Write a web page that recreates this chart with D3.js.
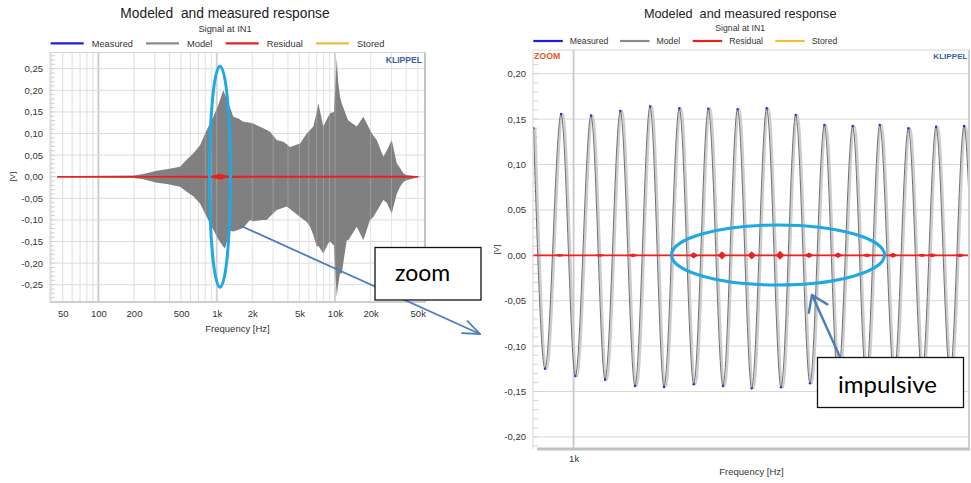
<!DOCTYPE html>
<html><head><meta charset="utf-8">
<script src="https://cdn.jsdelivr.net/npm/d3@7"></script>
<style>
html,body{margin:0;padding:0;background:#fff;}
svg{display:block;font-family:"Liberation Sans",Arial,sans-serif;}
</style></head><body>
<svg id="c" width="971" height="483"></svg>
<script>
// ---------------- DATA ----------------
const titleText = "Modeled  and measured response";
const subtitleText = "Signal at IN1";
const legendNames = ["Measured", "Model", "Residual", "Stored"];

// Left (full sweep) chart
const leftXTicks = [50, 100, 200, 500, 1000, 2000, 5000, 10000, 20000, 50000];
const leftXTickLabels = ["50", "100", "200", "500", "1k", "2k", "5k", "10k", "20k", "50k"];
const leftYTicks = [-0.25, -0.20, -0.15, -0.10, -0.05, 0.00, 0.05, 0.10, 0.15, 0.20, 0.25];

// model signal envelope (upper / lower) vs frequency
const envFreq  = [45, 103, 197, 240, 311, 378, 490, 557, 634, 723, 823, 936, 1030, 1137, 1175, 1296, 1381, 1523, 1679, 1912, 2040, 2477, 2647, 2823, 3215, 3656, 3906, 4165, 5060, 5766, 6149, 6556, 7003, 7224, 7964, 8778, 9073, 9806, 10340, 10630, 11020, 11390, 12560, 12950, 15260, 17350, 19770, 21080, 22520, 25610, 27350, 30150, 33240, 35440, 37790, 40370, 49050, 52300];
const envUpper = [0.001, 0.002, 0.003, 0.006, 0.014, 0.017, 0.023, 0.039, 0.054, 0.073, 0.108, 0.139, 0.166, 0.200, 0.190, 0.160, 0.139, 0.135, 0.127, 0.125, 0.123, 0.112, 0.108, 0.104, 0.085, 0.081, 0.075, 0.069, 0.077, 0.100, 0.108, 0.116, 0.150, 0.170, 0.116, 0.140, 0.147, 0.150, 0.274, 0.220, 0.185, 0.170, 0.139, 0.130, 0.116, 0.139, 0.108, 0.095, 0.085, 0.046, 0.060, 0.085, 0.031, 0.020, 0.008, 0.004, 0.001, 0.0005];
const envLower = [-0.001, -0.002, -0.003, -0.006, -0.014, -0.017, -0.023, -0.035, -0.045, -0.062, -0.093, -0.123, -0.145, -0.162, -0.166, -0.125, -0.127, -0.123, -0.118, -0.100, -0.103, -0.100, -0.100, -0.092, -0.077, -0.072, -0.069, -0.075, -0.093, -0.105, -0.116, -0.135, -0.162, -0.160, -0.178, -0.154, -0.150, -0.160, -0.278, -0.250, -0.224, -0.224, -0.147, -0.147, -0.116, -0.147, -0.100, -0.093, -0.080, -0.054, -0.060, -0.085, -0.040, -0.023, -0.012, -0.008, -0.002, -0.0005];

// residual amplitude vs frequency (left)
const resFreq = [45, 300, 600, 900, 1000, 1066, 1150, 1250, 2000, 10000, 40000, 50000];
const resAmp  = [0.0012, 0.0015, 0.002, 0.0025, 0.005, 0.007, 0.004, 0.0025, 0.002, 0.002, 0.002, 0.001];

// Right (zoom) chart
const rightXTicks = [1000];
const rightXTickLabels = ["1k"];
const rightYTicks = [-0.20, -0.15, -0.10, -0.05, 0.00, 0.05, 0.10, 0.15, 0.20];

// waveform extrema (frequency axis of the zoom, value in V)
const waveHz = [995.95, 997.11, 998.73, 1000.17, 1001.75, 1003.17, 1004.71, 1006.19, 1007.71, 1009.12, 1010.66, 1012.12, 1013.59, 1015.07, 1016.54, 1017.97, 1019.48, 1020.93, 1022.41, 1023.85, 1025.30, 1026.68, 1028.16, 1029.51, 1030.89, 1032.33, 1033.78, 1035.16, 1036.57, 1037.98, 1039.40, 1039.95];
const waveV  = [0.140, -0.125, 0.1556, -0.133, 0.154, -0.137, 0.159, -0.144, 0.164, -0.145, 0.162, -0.142, 0.1615, -0.144, 0.161, -0.1465, 0.162, -0.1454, 0.1545, -0.141, 0.1435, -0.137, 0.1424, -0.135, 0.1435, -0.133, 0.140, -0.132, 0.1416, -0.131, 0.1424, 0.05];

// residual bursts in the zoom
const burstHz  = [998.6, 1002.66, 1005.99, 1012.12, 1014.97, 1017.97, 1020.83, 1023.75, 1026.68, 1029.61, 1032.23, 1035.16, 1036.17, 1039.0];
const burstAmp = [0.0015, 0.0015, 0.002, 0.0035, 0.0045, 0.0045, 0.005, 0.003, 0.003, 0.002, 0.0028, 0.0018, 0.0022, 0.002];

// ---------------- DRAW ----------------
const svg = d3.select("#c");
const fmt = v => d3.format(".2f")(v).replace(".", ",").replace("−", "-");
const legendColors = ["#1c1ce8", "#8a8a8a", "#e8201e", "#eebd3a"];

function titles(cx, yT, fsT, yS, fsS) {
  svg.append("text").attr("x", cx).attr("y", yT).attr("text-anchor", "middle")
    .style("white-space", "pre").attr("font-size", fsT).attr("fill", "#222").text(titleText);
  svg.append("text").attr("x", cx).attr("y", yS).attr("text-anchor", "middle")
    .attr("font-size", fsS).attr("fill", "#333").text(subtitleText);
}
function legend(xs, y, lw, gap, fs) {
  legendNames.forEach((n, i) => {
    svg.append("line").attr("x1", xs[i]).attr("x2", xs[i] + lw).attr("y1", y).attr("y2", y)
      .attr("stroke", legendColors[i]).attr("stroke-width", 2.2);
    svg.append("text").attr("x", xs[i] + lw + gap).attr("y", y + 3.3).attr("font-size", fs)
      .attr("fill", "#333").text(n);
  });
}

// ===== LEFT CHART =====
const L = {x0: 50, x1: 425, y0: 52.5, y1: 302};
const xL = d3.scaleLog().domain([39, 57600]).range([L.x0, L.x1]);
const yL = d3.scaleLinear().domain([-0.29, 0.2875]).range([L.y1, L.y0]);

titles(225, 18.3, 13.8, 32, 9.3);
legend([50.7, 146, 225.7, 316], 43.3, 33, 8, 9.3);

const gL = svg.append("g");
svg.append("clipPath").attr("id", "clipL").append("rect")
  .attr("x", L.x0).attr("y", L.y0).attr("width", L.x1 - L.x0).attr("height", L.y1 - L.y0);

const gridF = [];
[10, 100, 1000, 10000].forEach(d => { for (let m = 1; m <= 9; m++) { const f = d * m; if (f >= 40 && f <= 50000) gridF.push(f); } });

gL.selectAll(".vg").data(gridF).join("line")
  .attr("x1", d => xL(d)).attr("x2", d => xL(d)).attr("y1", L.y0).attr("y2", L.y1)
  .attr("stroke", d => [100, 1000, 10000].includes(d) ? "#c9c9c9" : "#dedede")
  .attr("stroke-width", d => [100, 1000, 10000].includes(d) ? 1.8 : 1);
gL.selectAll(".hg").data(leftYTicks).join("line")
  .attr("x1", L.x0).attr("x2", L.x1).attr("y1", d => yL(d)).attr("y2", d => yL(d))
  .attr("stroke", "#dcdcdc").attr("stroke-width", 1);
// minor y ticks
const minorL = d3.range(-28, 29).map(k => k / 100);
gL.selectAll(".mt").data(minorL).join("line")
  .attr("x1", L.x0).attr("x2", L.x0 + 5).attr("y1", d => yL(d)).attr("y2", d => yL(d))
  .attr("stroke", "#d2d2d2").attr("stroke-width", 1);

const envData = envFreq.map((f, i) => ({f, u: envUpper[i], l: envLower[i]}));
gL.append("path").datum(envData).attr("clip-path", "url(#clipL)")
  .attr("d", d3.area().x(d => xL(d.f)).y0(d => yL(d.l)).y1(d => yL(d.u)).curve(d3.curveLinear))
  .attr("fill", "#808080");
// grid shows faintly through the signal
gL.selectAll(".vg2").data(gridF.filter(f => f >= 800)).join("line")
  .attr("x1", d => xL(d)).attr("x2", d => xL(d)).attr("y1", L.y0).attr("y2", L.y1)
  .attr("stroke", "#ffffff").attr("stroke-opacity", 0.22).attr("stroke-width", 1);

const resData = resFreq.map((f, i) => ({f, a: resAmp[i]}));
gL.append("path").datum(resData)
  .attr("d", d3.area().x(d => xL(d.f)).y0(d => yL(-d.a)).y1(d => yL(d.a)))
  .attr("fill", "#e8201e");
gL.append("line").attr("x1", xL(resFreq[0])).attr("x2", xL(resFreq[resFreq.length - 1]))
  .attr("y1", yL(0)).attr("y2", yL(0)).attr("stroke", "#e8201e").attr("stroke-width", 1.4);

// frame
gL.append("rect").attr("x", L.x0).attr("y", L.y0).attr("width", L.x1 - L.x0).attr("height", L.y1 - L.y0)
  .attr("fill", "none").attr("stroke", "#d4d4d4");
gL.append("line").attr("x1", L.x1).attr("x2", L.x1).attr("y1", L.y0).attr("y2", L.y1 + 1)
  .attr("stroke", "#c4c4c4").attr("stroke-width", 2);
gL.append("line").attr("x1", L.x0).attr("x2", L.x1 + 1).attr("y1", L.y1).attr("y2", L.y1)
  .attr("stroke", "#cfcfcf").attr("stroke-width", 2);

// axes
const axL = gL.append("g").attr("transform", `translate(${L.x0},0)`)
  .call(d3.axisLeft(yL).tickValues(leftYTicks).tickSize(0).tickPadding(7).tickFormat(fmt));
const axB = gL.append("g").attr("transform", `translate(0,${L.y1})`)
  .call(d3.axisBottom(xL).tickValues(leftXTicks).tickSize(0).tickPadding(8.5)
    .tickFormat((d, i) => leftXTickLabels[i]));
[axL, axB].forEach(a => { a.select(".domain").remove();
  a.selectAll("text").attr("font-size", 9.5).attr("fill", "#333").attr("font-family", "Liberation Sans, Arial, sans-serif"); });

svg.append("text").attr("x", (L.x0 + L.x1) / 2).attr("y", 332).attr("text-anchor", "middle")
  .attr("font-size", 9.5).attr("fill", "#333").text("Frequency [Hz]");
svg.append("text").attr("transform", `translate(14.5,${yL(0)}) rotate(-90)`).attr("text-anchor", "middle")
  .attr("font-size", 8).attr("fill", "#333").text("[V]");
svg.append("text").attr("x", 422).attr("y", 63).attr("text-anchor", "end").attr("font-weight", "bold")
  .attr("font-size", 8.6).attr("fill", "#3a5ca6").text("KLIPPEL");

// ===== RIGHT CHART =====
const R = {x0: 533, x1: 970, y0: 50, y1: 449};
const xR = d3.scaleLinear().domain([995.9, 1040]).range([R.x0, R.x1]);
const yR = d3.scaleLinear().domain([-0.2133, 0.2261]).range([R.y1, R.y0]);

titles(740.2, 18.3, 12.7, 30.7, 8.7);
legend([533.3, 620, 692.7, 775.3], 41, 29.5, 7, 8.7);

const gR = svg.append("g");
svg.append("clipPath").attr("id", "clipR").append("rect")
  .attr("x", R.x0).attr("y", R.y0).attr("width", R.x1 - R.x0).attr("height", R.y1 - R.y0);

gR.selectAll(".hg").data(rightYTicks).join("line")
  .attr("x1", R.x0).attr("x2", R.x1).attr("y1", d => yR(d)).attr("y2", d => yR(d))
  .attr("stroke", "#d8d8d8").attr("stroke-width", 1);
gR.selectAll(".vg").data(rightXTicks).join("line")
  .attr("x1", d => xR(d)).attr("x2", d => xR(d)).attr("y1", R.y0).attr("y2", R.y1)
  .attr("stroke", "#c9c9c9").attr("stroke-width", 1.8);
const minorR = d3.range(-21, 23).map(k => k / 100);
gR.selectAll(".mt").data(minorR).join("line")
  .attr("x1", R.x0).attr("x2", R.x0 + 5).attr("y1", d => yR(d)).attr("y2", d => yR(d))
  .attr("stroke", "#d2d2d2").attr("stroke-width", 1);

const waveData = waveHz.map((h, i) => ({h, v: waveV[i]}));
const waveLine = d3.line().x(d => xR(d.h)).y(d => yR(d.v)).curve(d3.curveMonotoneX);
const gw = gR.append("g").attr("clip-path", "url(#clipR)");
gw.append("path").datum(waveData).attr("d", waveLine).attr("transform", "translate(1.6,0)")
  .attr("fill", "none").attr("stroke", "#cdcdcd").attr("stroke-width", 2.6);
gw.append("path").datum(waveData).attr("d", waveLine)
  .attr("fill", "none").attr("stroke", "#5e5e66").attr("stroke-width", 0.9);
gw.selectAll(".dot").data(waveData).join("circle")
  .attr("cx", d => xR(d.h)).attr("cy", d => yR(d.v)).attr("r", 1.2).attr("fill", "#2a2ae6");

// residual
gw.append("line").attr("x1", R.x0).attr("x2", R.x1).attr("y1", yR(0)).attr("y2", yR(0))
  .attr("stroke", "#ee2020").attr("stroke-width", 1.8);
gw.selectAll(".burst").data(burstHz.map((h, i) => ({h, a: burstAmp[i]}))).join("path")
  .attr("d", d => {
    const x = xR(d.h);
    return d3.area().x(p => p[0]).y0(p => yR(-p[1])).y1(p => yR(p[1]))([[x - 3.5, 0.0008], [x, d.a], [x + 3.5, 0.0008]]);
  })
  .attr("fill", "#ee2020");

// frame
gR.append("line").attr("x1", R.x0).attr("x2", R.x1).attr("y1", R.y0).attr("y2", R.y0).attr("stroke", "#d4d4d4");
gR.append("line").attr("x1", R.x0).attr("x2", R.x0).attr("y1", R.y0).attr("y2", R.y1).attr("stroke", "#d4d4d4");
gR.append("line").attr("x1", R.x1 - 1).attr("x2", R.x1 - 1).attr("y1", R.y0).attr("y2", R.y1)
  .attr("stroke", "#cfcfcf").attr("stroke-width", 2);
gR.append("line").attr("x1", R.x0 + 4).attr("x2", R.x1).attr("y1", R.y1).attr("y2", R.y1)
  .attr("stroke", "#c2c2c2").attr("stroke-width", 3);

const axRL = gR.append("g").attr("transform", `translate(${R.x0},0)`)
  .call(d3.axisLeft(yR).tickValues(rightYTicks).tickSize(0).tickPadding(7).tickFormat(fmt));
const axRB = gR.append("g").attr("transform", `translate(0,${R.y1})`)
  .call(d3.axisBottom(xR).tickValues(rightXTicks).tickSize(0).tickPadding(6.5)
    .tickFormat((d, i) => rightXTickLabels[i]));
[axRL, axRB].forEach(a => { a.select(".domain").remove();
  a.selectAll("text").attr("font-size", 9.5).attr("fill", "#333").attr("font-family", "Liberation Sans, Arial, sans-serif"); });

svg.append("text").attr("x", (R.x0 + R.x1) / 2).attr("y", 475).attr("text-anchor", "middle")
  .attr("font-size", 9.5).attr("fill", "#333").text("Frequency [Hz]");
svg.append("text").attr("transform", `translate(499,${(R.y0 + R.y1) / 2}) rotate(-90)`).attr("text-anchor", "middle")
  .attr("font-size", 8).attr("fill", "#333").text("[V]");
svg.append("text").attr("x", 967.5).attr("y", 59.3).attr("text-anchor", "end").attr("font-weight", "bold")
  .attr("font-size", 8.1).attr("fill", "#3a5ca6").text("KLIPPEL");
svg.append("text").attr("x", 534).attr("y", 59.3).attr("font-weight", "bold")
  .attr("font-size", 8.8).attr("fill", "#e25a2a").text("ZOOM");

// ===== ANNOTATIONS =====
const annBlue = "#4a7ebb", ellBlue = "#1fa8e2";
function arrow(x1, y1, x2, y2, arm, ang, w) {
  svg.append("line").attr("x1", x1).attr("y1", y1).attr("x2", x2).attr("y2", y2)
    .attr("stroke", annBlue).attr("stroke-width", w);
  const a = Math.atan2(y1 - y2, x1 - x2);
  [ang, -ang].forEach(da => {
    svg.append("line").attr("x1", x2).attr("y1", y2)
      .attr("x2", x2 + arm * Math.cos(a + da)).attr("y2", y2 + arm * Math.sin(a + da))
      .attr("stroke", annBlue).attr("stroke-width", w).attr("stroke-linecap", "round");
  });
}
function box(x, y, w, h, label, tx, ty, fs) {
  svg.append("rect").attr("x", x).attr("y", y).attr("width", w).attr("height", h)
    .attr("fill", "#fff").attr("stroke", "#111").attr("stroke-width", 1.3);
  svg.append("text").attr("x", tx).attr("y", ty).attr("font-size", fs)
    .attr("font-family", "Lato, 'Open Sans', sans-serif").attr("fill", "#000").text(label);
}
// left ellipse + arrow + box
svg.append("ellipse").attr("cx", xL(1066)).attr("cy", yL(0)).attr("rx", 10.5).attr("ry", 110.5)
  .attr("fill", "none").attr("stroke", ellBlue).attr("stroke-width", 3);
arrow(240, 225.5, 480, 334, 18, 0.38, 1.8);
box(375, 247.5, 106, 52.5, "zoom", 395, 280.5, 23);

// right ellipse + arrow + box
svg.append("ellipse").attr("cx", 778).attr("cy", 255).attr("rx", 106.5).attr("ry", 30)
  .attr("fill", "none").attr("stroke", ellBlue).attr("stroke-width", 3);
arrow(840, 357, 812, 295, 18, 0.6, 2.4);
box(817.5, 357.5, 146, 50, "impulsive", 838, 393, 24);
</script>
</body></html>
